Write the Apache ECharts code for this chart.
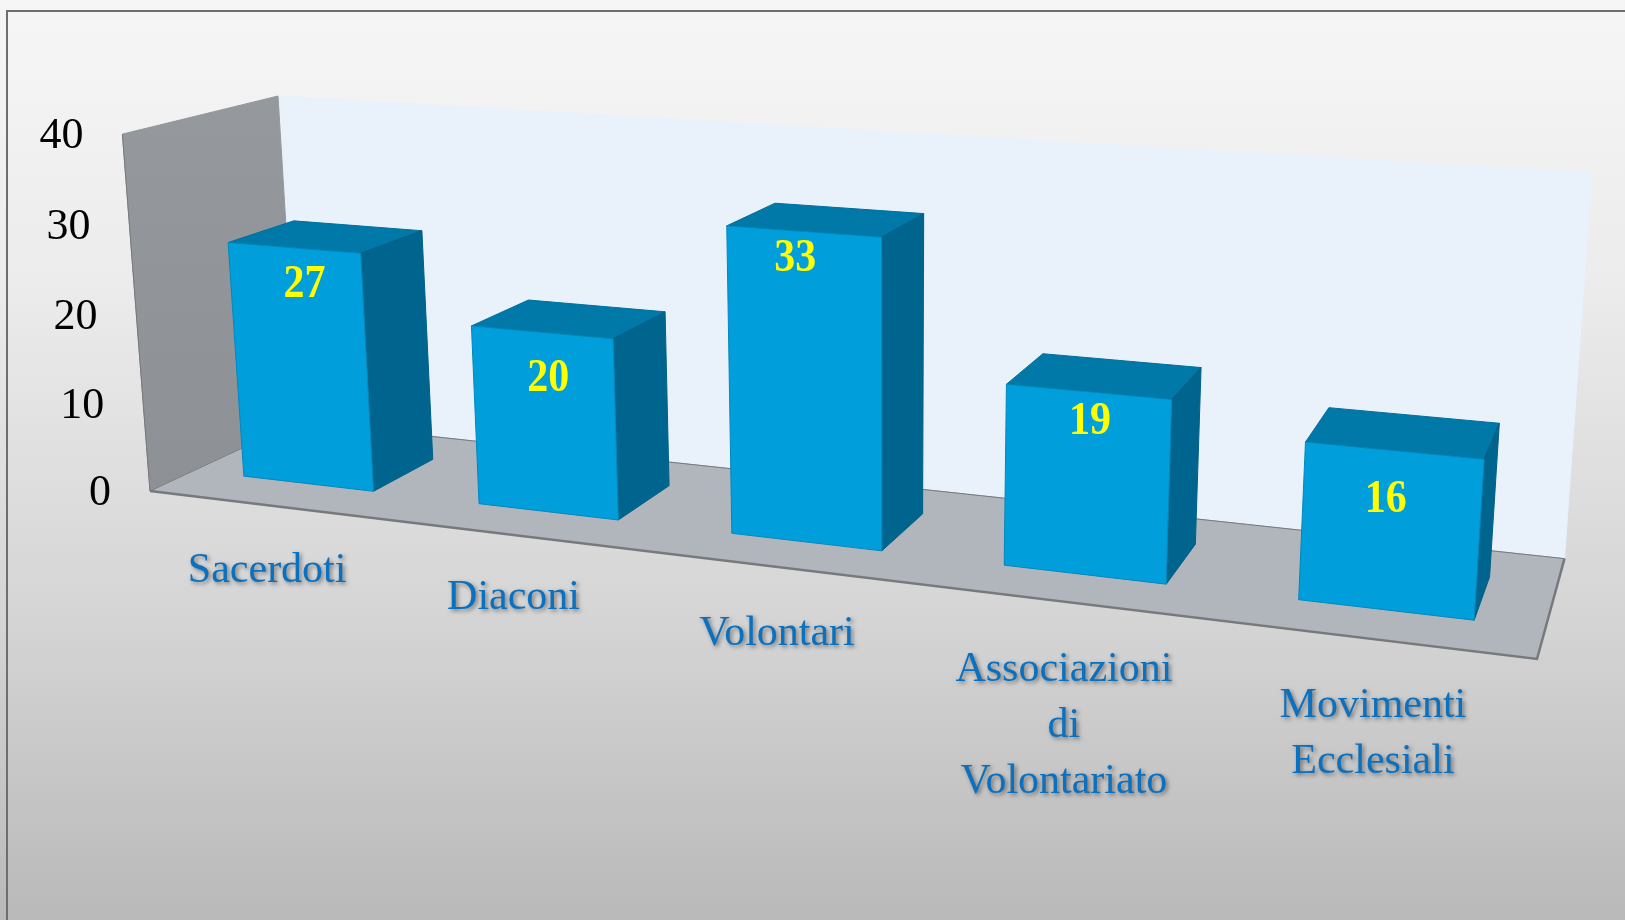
<!DOCTYPE html>
<html>
<head>
<meta charset="utf-8">
<title>Volontari</title>
<script src="https://cdn.jsdelivr.net/npm/echarts@6/dist/echarts.min.js"></script>
<style>
html, body { margin: 0; padding: 0; background: #f5f5f5; }
#newCharts { width: 1625px; height: 920px; }
</style>
</head>
<body>
<div id="newCharts"></div>
<script>
var categories = ['Sacerdoti', 'Diaconi', 'Volontari', 'Associazioni\ndi\nVolontariato', 'Movimenti\nEcclesiali'];
var barValues = [27, 20, 33, 19, 16];
var tickValues = [0, 10, 20, 30, 40];

// corners of the room in the picture, u along x, v up, w into depth
var P000 = [150, 491], P100 = [1537, 659], P001 = [298, 422], P011 = [278, 96];
// perspective terms, fitted by hand so the two right corners land at 1565,557 and 1593,173
var kU = -0.1774, kV = -0.036, kW = 0.099;

// bar depth inside the room and bar width inside its band
var barFront = 0.28, barBack = 0.72, barShare = 0.56;
// manual nudges of the labels, same as in the original slide
var valueLabelDx = [10, 6, -9, 1, -9];
var valueLabelDy = [37, 46, 27, 30, 49];
var catLabelDx = [1, 2, 1, 2, 1];
var catLabelDy = [38, 35, 39, 41, 39];

// linear part of the projection on one picture axis (a = 0 x, a = 1 y)
function axisTerms(a) {
  var C = P001[a] * (1 + kW) - P000[a];
  return {
    A: P100[a] * (1 + kU) - P000[a],
    B: P011[a] * (1 + kV + kW) - P000[a] - C,
    C: C
  };
}
var xTerms = axisTerms(0), yTerms = axisTerms(1);

function project(u, v, w) {
  var d = 1 + kU * u + kV * v + kW * w;
  return [
    (P000[0] + xTerms.A * u + xTerms.B * v + xTerms.C * w) / d,
    (P000[1] + yTerms.A * u + yTerms.B * v + yTerms.C * w) / d
  ];
}

// pixel from the hidden grid -> position in the room
function toRoom(coordSys, pt) {
  return [(pt[0] - coordSys.x) / coordSys.width, (coordSys.y + coordSys.height - pt[1]) / coordSys.height];
}

function face(points, fill, stroke) {
  return {
    type: 'polygon',
    shape: { points: points },
    style: { fill: fill, stroke: stroke || fill, lineWidth: 1 }
  };
}

function edge(points, width) {
  return { type: 'polyline', shape: { points: points }, style: { fill: null, stroke: '#77797c', lineWidth: width } };
}

function renderRoom() {
  var wallFill = new echarts.graphic.LinearGradient(0, 0, 0, 1, [
    { offset: 0, color: '#95999e' },
    { offset: 1, color: '#8d9196' }
  ]);
  return {
    type: 'group',
    children: [
      face([project(0, 1, 1), project(1, 1, 1), project(1, 0, 1), project(0, 0, 1)], '#e9f1fb'),
      face([project(0, 1, 0), project(0, 1, 1), project(0, 0, 1), project(0, 0, 0)], wallFill),
      face([project(0, 0, 0), project(1, 0, 0), project(1, 0, 1), project(0, 0, 1)], '#b0b6bc'),
      edge([project(0, 1, 0), project(0, 0, 0), project(0, 0, 1), project(1, 0, 1)], 1),
      edge([project(0, 0, 0), project(1, 0, 0), project(1, 0, 1)], 2.5)
    ]
  };
}

function renderBar(params, api) {
  var cs = params.coordSys;
  var i = api.value(0);
  var top = toRoom(cs, api.coord([i, api.value(1)]));
  var half = api.size([1, 0])[0] / cs.width * barShare / 2;
  var u0 = top[0] - half, u1 = top[0] + half, v = top[1];
  var fl = project(u0, v, barFront), fr = project(u1, v, barFront);
  var bl = project(u0, v, barBack), br = project(u1, v, barBack);
  var gl = project(u0, 0, barFront), gr = project(u1, 0, barFront), gb = project(u1, 0, barBack);
  var cx = (fl[0] + fr[0]) / 2, cy = (fl[1] + fr[1]) / 2;
  return {
    type: 'group',
    children: [
      face([fl, bl, br, fr], '#0078a8', '#006f9d'),
      face([fr, br, gb, gr], '#00658e', '#005f86'),
      face([fl, fr, gr, gl], '#009edb', '#0388bd'),
      {
        type: 'text',
        x: cx + valueLabelDx[i],
        y: cy + valueLabelDy[i],
        scaleY: 1.12,
        style: { text: String(api.value(1)), fill: '#ffff00', font: 'bold 42px "Liberation Serif"', align: 'center', verticalAlign: 'middle' }
      }
    ]
  };
}

function renderTick(params, api) {
  var room = toRoom(params.coordSys, api.coord([0, api.value(0)]));
  var p = project(0, room[1], 0);
  return {
    type: 'text',
    x: p[0] - 39,
    y: p[1] + 2,
    style: { text: String(api.value(0)), fill: '#000000', font: '44px "Liberation Serif"', align: 'right', verticalAlign: 'middle' }
  };
}

function renderCategory(params, api) {
  var i = api.value(0);
  var room = toRoom(params.coordSys, api.coord([i, 0]));
  var p = project(room[0], 0, 0);
  return {
    type: 'text',
    x: p[0] + catLabelDx[i],
    y: p[1] + catLabelDy[i],
    style: {
      text: categories[i],
      fill: '#0a70c0',
      font: '42px "Liberation Serif"',
      lineHeight: 56,
      align: 'center',
      verticalAlign: 'top',
      textShadowColor: 'rgba(0,0,0,0.45)',
      textShadowBlur: 4,
      textShadowOffsetX: 2,
      textShadowOffsetY: 2
    }
  };
}

var myChart = echarts.init(document.getElementById('newCharts'));
myChart.setOption({
  animation: false,
  backgroundColor: new echarts.graphic.LinearGradient(0, 0, 0, 1, [
    { offset: 0, color: '#f6f6f6' },
    { offset: 0.3, color: '#ececec' },
    { offset: 0.68, color: '#d4d4d4' },
    { offset: 1, color: '#b9b9b9' }
  ]),
  graphic: [{
    type: 'polyline',
    silent: true,
    shape: { points: [[7, 920], [7, 11], [1625, 11]] },
    style: { fill: null, stroke: '#6e6e6e', lineWidth: 2 }
  }],
  grid: { left: 100, right: 100, top: 100, bottom: 100 },
  xAxis: { type: 'category', data: categories, show: false },
  yAxis: { type: 'value', min: 0, max: 40, interval: 10, show: false },
  series: [
    { type: 'custom', name: 'room', clip: false, silent: true, renderItem: renderRoom, data: [[0]], encode: { x: 0 }, z: 1 },
    { type: 'custom', name: 'ticks', clip: false, silent: true, renderItem: renderTick, data: tickValues.map(function (t) { return [t]; }), encode: { y: 0 }, z: 2 },
    { type: 'custom', name: 'bars', clip: false, silent: true, renderItem: renderBar, data: barValues.map(function (v, i) { return [i, v]; }), encode: { x: 0, y: 1 }, z: 3 },
    { type: 'custom', name: 'labels', clip: false, silent: true, renderItem: renderCategory, data: categories.map(function (c, i) { return [i]; }), encode: { x: 0 }, z: 4 }
  ]
});
</script>
</body>
</html>
